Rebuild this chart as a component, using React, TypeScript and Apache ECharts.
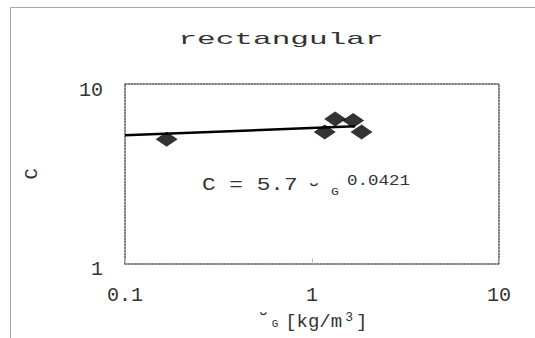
import React, { useEffect, useRef } from "react";
import * as echarts from "echarts";

// measured data points (density rho_G [kg/m3], coefficient C)
const rhoG = [0.167, 1.17, 1.33, 1.66, 1.84];
const cValues = [4.92, 5.41, 6.39, 6.26, 5.41];
// fitted power-law line end points (straight on log-log axes)
const fitRho = [0.1, 1.7];
const fitC = [5.18, 5.82];
// axis ranges
const xRange = [0.1, 10];
const yRange = [1, 10];

const MONO = "'Liberation Mono', 'DejaVu Sans Mono', monospace";
const INK = "#333";

export default function App() {
  const ref = useRef<HTMLDivElement>(null);
  useEffect(() => {
    if (!ref.current) return;
    const chart = echarts.init(ref.current, null, { renderer: "svg" });
    const frameLine = { show: true, lineStyle: { color: "#555", width: 1.5, type: "dotted" as const } };
    chart.setOption({
      animation: false,
      backgroundColor: "#fff",
      grid: { left: 125, top: 84, right: 36, bottom: 69, containLabel: false },
      xAxis: [
        {
          type: "log",
          logBase: 10,
          min: xRange[0],
          max: xRange[1],
          axisLine: frameLine,
          axisTick: { show: true, inside: true, length: 5, lineStyle: { color: "#bbb" } },
          splitLine: { show: false },
          minorTick: { show: false },
          axisLabel: {
            color: INK,
            fontFamily: MONO,
            fontSize: 20,
            margin: 22,
            formatter: (v: number) => (v < 1 ? "0.1" : String(Math.round(v))),
          },
          name: "{r|˘}{g|G}  {t|[kg/m}{s|3}{t|]}",
          nameLocation: "middle",
          nameGap: 34,
          nameTextStyle: {
            rich: {
              r: { fontFamily: MONO, fontSize: 22, color: INK, padding: [0, 0, 0, 0] },
              g: { fontFamily: MONO, fontSize: 11, color: INK, padding: [4, 0, 0, 2] },
              t: { fontFamily: MONO, fontSize: 19, color: INK },
              s: { fontFamily: MONO, fontSize: 13, color: INK, padding: [0, 3, 10, 3] },
            },
          },
        },
        {
          type: "log",
          position: "top",
          min: xRange[0],
          max: xRange[1],
          axisLine: frameLine,
          axisTick: { show: false },
          axisLabel: { show: false },
          splitLine: { show: false },
        },
      ],
      yAxis: [
        {
          type: "log",
          logBase: 10,
          min: yRange[0],
          max: yRange[1],
          axisLine: frameLine,
          axisTick: { show: false },
          splitLine: { show: false },
          axisLabel: { color: INK, fontFamily: MONO, fontSize: 20, margin: 22, padding: [0, 0, 0, 0], verticalAlign: "top", lineHeight: 12 },
          name: "C",
          nameLocation: "middle",
          nameRotate: 90,
          nameGap: 84,
          nameTextStyle: { fontFamily: MONO, fontSize: 19, color: INK },
        },
        {
          type: "log",
          position: "right",
          min: yRange[0],
          max: yRange[1],
          axisLine: frameLine,
          axisTick: { show: false },
          axisLabel: { show: false },
          splitLine: { show: false },
        },
      ],
      series: [
        {
          type: "line",
          data: fitRho.map((x, i) => [x, fitC[i]]),
          showSymbol: false,
          symbol: "none",
          lineStyle: { color: "#000", width: 2.5 },
          z: 2,
        },
        {
          type: "scatter",
          data: rhoG.map((x, i) => [x, cValues[i]]),
          symbol: "diamond",
          symbolSize: [22, 15],
          itemStyle: { color: "#000" },
          z: 3,
        },
      ],
      graphic: [
        {
          type: "rect",
          shape: { x: 10.5, y: 7.5, width: 600, height: 400 },
          style: { fill: "none", stroke: "#aaa", lineWidth: 1 },
          silent: true,
        },
        {
          type: "text",
          x: 281,
          y: 48,
          scaleX: 1.83,
          style: {
            text: "rectangular",
            fontFamily: MONO,
            fontSize: 17,
            fill: INK,
            align: "center",
            verticalAlign: "bottom",
          },
        },
        {
          type: "text",
          x: 202,
          y: 195,
          scaleX: 1.2,
          style: { text: "C = 5.7", fontFamily: MONO, fontSize: 19, fill: INK, verticalAlign: "bottom" },
        },
        {
          type: "text",
          x: 306,
          y: 207,
          scaleX: 1.1,
          style: { text: "˘", fontFamily: MONO, fontSize: 24, fill: INK, verticalAlign: "bottom" },
        },
        {
          type: "text",
          x: 331,
          y: 198,
          scaleX: 1.2,
          style: { text: "G", fontFamily: MONO, fontSize: 11, fill: INK, verticalAlign: "bottom" },
        },
        {
          type: "text",
          x: 347,
          y: 188,
          scaleX: 1.25,
          style: { text: "0.0421", fontFamily: MONO, fontSize: 14, fill: INK, verticalAlign: "bottom" },
        },
      ],
    });
    return () => chart.dispose();
  }, []);
  return (
    <div
      ref={ref}
      style={{ position: "fixed", left: 0, top: 0, width: 535, height: 338 }}
    />
  );
}
